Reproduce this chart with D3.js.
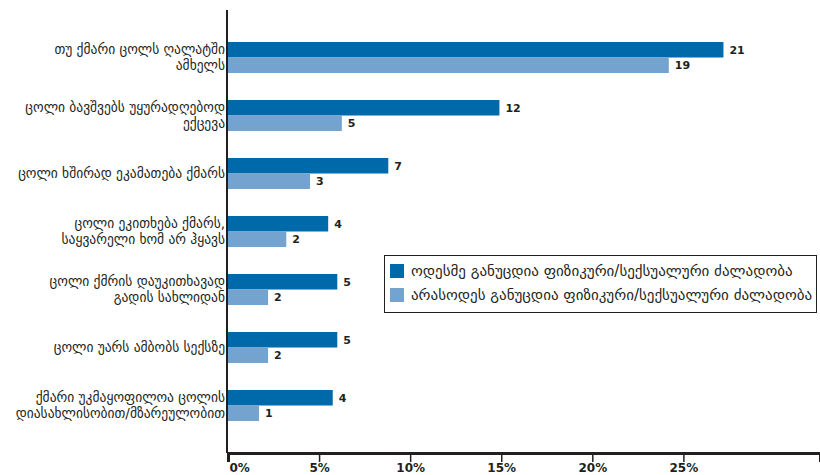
<!DOCTYPE html>
<html>
<head>
<meta charset="utf-8">
<script src="https://cdn.jsdelivr.net/npm/d3@7"></script>
<style>
  body { margin: 0; background: #fff; }
  svg { display: block; }
  .cat { font-family: "DejaVu Sans", sans-serif; font-size: 13.5px; fill: #231f20; }
  .val { font-family: "DejaVu Sans", sans-serif; font-size: 11px; font-weight: bold; fill: #231f20; }
  .x.axis text { font-family: "DejaVu Sans", sans-serif; font-size: 12px; font-weight: bold; fill: #231f20; }
  .legend text { font-family: "DejaVu Sans", sans-serif; font-size: 15px; fill: #231f20; }
</style>
</head>
<body>
<div id="chart"></div>
<script>
// categories, top to bottom (each entry = label lines)
var categories = [
    ["თუ ქმარი ცოლს ღალატში", "ამხელს"],
    ["ცოლი ბავშვებს უყურადღებოდ", "ექცევა"],
    ["ცოლი ხშირად ეკამათება ქმარს"],
    ["ცოლი ეკითხება ქმარს,", "საყვარელი ხომ არ ჰყავს"],
    ["ცოლი ქმრის დაუკითხავად", "გადის სახლიდან"],
    ["ცოლი უარს ამბობს სექსზე"],
    ["ქმარი უკმაყოფილოა ცოლის", "დიასახლისობით/მზარეულობით"]
];
var seriesNames = [
    "ოდესმე განუცდია ფიზიკური/სექსუალური ძალადობა",
    "არასოდეს განუცდია ფიზიკური/სექსუალური ძალადობა"
];
// bar lengths as read against the x axis (%)
var everValues  = [27.2, 14.9, 8.8, 5.5, 6.0, 6.0, 5.75];
var neverValues = [24.2, 6.25, 4.5, 3.2, 2.2, 2.2, 1.7];
// numbers printed at the bar ends
var everLabels  = [21, 12, 7, 4, 5, 5, 4];
var neverLabels = [19, 5, 3, 2, 2, 2, 1];
var xTicks = [0, 5, 10, 15, 20, 25];

var colors = ["#0069aa", "#75a3cf"];
var W = 820, H = 475;
var left = 228, right = 820, axisY = 453;

var svg = d3.select("#chart").append("svg")
    .attr("width", W)
    .attr("height", H);

var x = d3.scaleLinear().domain([0, 32.5]).range([left, right]);

var ids = d3.range(categories.length);
var y = d3.scaleBand().domain(ids).range([28.5, 434.5])
    .paddingInner(27 / 58).paddingOuter(13.5 / 58);
var ySub = d3.scaleBand().domain([0, 1]).range([0, y.bandwidth()]);

var rows = ids.map(function(i) {
    return [
        {i: i, s: 0, v: everValues[i], lab: everLabels[i]},
        {i: i, s: 1, v: neverValues[i], lab: neverLabels[i]}
    ];
});

//### bars ###
var g = svg.selectAll(".grp").data(rows).enter().append("g")
    .attr("class", "grp")
    .attr("transform", function(d, i) { return "translate(0," + y(i) + ")"; });

g.selectAll("rect").data(function(d) { return d; }).enter().append("rect")
    .attr("x", x(0))
    .attr("y", function(d) { return ySub(d.s); })
    .attr("width", function(d) { return x(d.v) - x(0); })
    .attr("height", ySub.bandwidth())
    .attr("fill", function(d) { return colors[d.s]; });

g.selectAll(".val").data(function(d) { return d; }).enter().append("text")
    .attr("class", "val")
    .attr("x", function(d) { return x(d.v) + 6; })
    .attr("y", function(d) { return ySub(d.s) + ySub.bandwidth() / 2; })
    .attr("dy", "0.36em")
    .text(function(d) { return d.lab; });

//### category labels ###
var lab = svg.selectAll(".cat").data(categories).enter().append("text")
    .attr("class", "cat")
    .attr("text-anchor", "end")
    .attr("transform", function(d, i) {
        return "translate(" + (left - 3) + "," + (y(i) + y.bandwidth() / 2) + ")";
    });
lab.selectAll("tspan").data(function(d) {
        return d.map(function(t, k) { return {t: t, k: k, n: d.length}; });
    }).enter().append("tspan")
    .attr("x", 0)
    .attr("y", function(d) { return (d.k - (d.n - 1) / 2) * 16; })
    .attr("dy", "0.32em")
    .text(function(d) { return d.t; });

//### axes ###
svg.append("line")
    .attr("x1", left - 1).attr("x2", left - 1)
    .attr("y1", 10).attr("y2", axisY)
    .attr("stroke", "#231f20").attr("stroke-width", 2);

var xAxis = d3.axisBottom(x)
    .tickValues(xTicks)
    .tickSize(9)
    .tickPadding(1)
    .tickFormat(function(d) { return d + "%"; });

var ax = svg.append("g")
    .attr("class", "x axis")
    .attr("transform", "translate(0," + axisY + ")")
    .call(xAxis);
ax.select(".domain").attr("stroke", "#231f20").attr("stroke-width", 3);
ax.selectAll(".tick line").attr("stroke", "#231f20").attr("stroke-width", 1.5);
// first label sits to the right of its tick
ax.selectAll(".tick text").filter(function(d) { return d === 0; })
    .attr("text-anchor", "start").attr("x", 1);

//### legend ###
var lg = svg.append("g").attr("class", "legend");
lg.append("rect")
    .attr("x", 384.5).attr("y", 255.5)
    .attr("width", 432).attr("height", 57)
    .attr("fill", "#fff").attr("stroke", "#231f20").attr("stroke-width", 1);
var item = lg.selectAll(".item").data(seriesNames).enter().append("g")
    .attr("class", "item")
    .attr("transform", function(d, i) { return "translate(390," + (264 + i * 24) + ")"; });
item.append("rect")
    .attr("width", 14).attr("height", 14)
    .attr("fill", function(d, i) { return colors[i]; });
item.append("text")
    .attr("x", 21).attr("y", 7).attr("dy", "0.32em")
    .text(function(d) { return d; });
</script>
</body>
</html>
